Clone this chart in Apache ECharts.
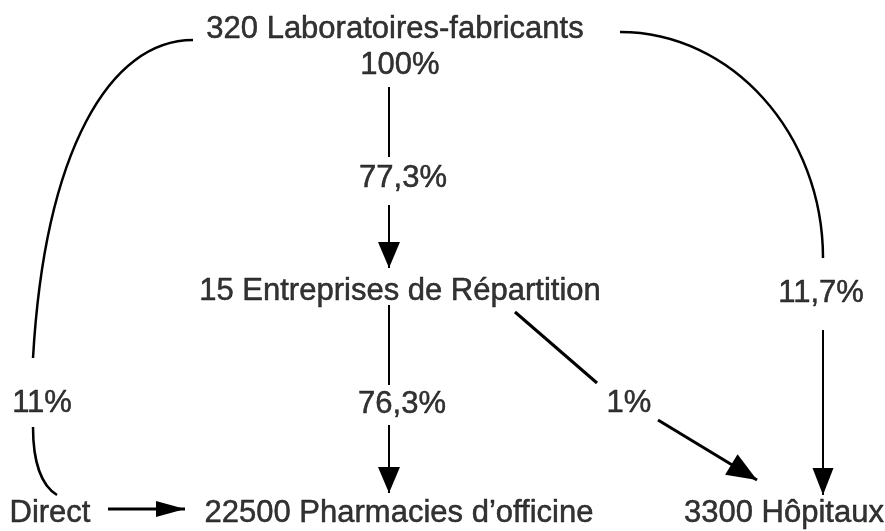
<!DOCTYPE html>
<html>
<head>
<meta charset="utf-8">
<script src="https://cdn.jsdelivr.net/npm/echarts@6/dist/echarts.min.js"></script>
<style>
  html, body { margin: 0; padding: 0; background: #ffffff; }
  #chart { width: 885px; height: 531px; }
</style>
</head>
<body>
<div id="chart"></div>
<script>
// ---------- content ----------
const nodeNames = [
  '320 Laboratoires-fabricants',
  '15 Entreprises de Répartition',
  '22500 Pharmacies d\u2019officine',
  '3300 Hôpitaux',
  'Direct'
];
const flowLabels = ['100%', '77,3%', '76,3%', '11,7%', '11%', '1%'];

// ---------- layout (diagram units = 885 x 531 canvas) ----------
const nodeX = [395, 400, 399, 784, 50];
const nodeY = [29, 291, 513, 513, 513];
const flowLabelX = [400, 403, 402, 821, 42, 629];
const flowLabelY = [65, 178, 404, 293, 403, 403];

// connector geometry: kind, points, arrow head [length, width], line width
const connectors = [
  { kind: 'line',  pts: [[389, 87], [389, 157]], head: null, lw: 2 },
  { kind: 'line',  pts: [[389, 205], [389, 268]], head: [26, 22], lw: 2 },
  { kind: 'line',  pts: [[389, 305], [389, 385]], head: null, lw: 2 },
  { kind: 'line',  pts: [[389, 425], [389, 493]], head: [26, 22], lw: 2 },
  { kind: 'curve', pts: [[620, 32], [732, 32], [823, 134], [823, 258]], head: null, lw: 2.5 },
  { kind: 'line',  pts: [[823, 330], [823, 495]], head: [27, 21], lw: 2 },
  { kind: 'line',  pts: [[515, 312], [597, 383]], head: null, lw: 3 },
  { kind: 'line',  pts: [[658, 420], [757, 480]], head: [30, 24], lw: 3 },
  { kind: 'curve', pts: [[193, 40], [110, 40], [45, 150], [33, 358]], head: null, lw: 2.5 },
  { kind: 'curve', pts: [[33, 427], [33, 463], [42, 486], [57, 495]], head: null, lw: 2.5 },
  { kind: 'line',  pts: [[108, 509], [185, 509]], head: [29, 16], lw: 3 }
];

const INK = '#000000';
const FONT = 'Liberation Sans, Arial, Helvetica, sans-serif';
const FS = 31;

const chart = echarts.init(document.getElementById('chart'), null, { renderer: 'canvas' });

function renderConnector(params, api) {
  const c = connectors[params.dataIndex];
  const p = c.pts.map(pt => api.coord(pt));
  const children = [];
  if (c.head) {
    const end = p[p.length - 1];
    const prev = p[p.length - 2];
    const dx = end[0] - prev[0], dy = end[1] - prev[1];
    const len = Math.sqrt(dx * dx + dy * dy);
    const ux = dx / len, uy = dy / len;
    const L = c.head[0], W = c.head[1] / 2;
    const bx = end[0] - ux * L, by = end[1] - uy * L;
    children.push({
      type: 'polygon',
      shape: { points: [end, [bx - uy * W, by + ux * W], [bx + uy * W, by - ux * W]] },
      style: { fill: INK }
    });
  }
  if (c.kind === 'line') {
    children.push({
      type: 'line',
      shape: { x1: p[0][0], y1: p[0][1], x2: p[1][0], y2: p[1][1] },
      style: { stroke: INK, lineWidth: c.lw, lineCap: 'butt' }
    });
  } else {
    children.push({
      type: 'bezierCurve',
      shape: {
        x1: p[0][0], y1: p[0][1],
        cpx1: p[1][0], cpy1: p[1][1],
        cpx2: p[2][0], cpy2: p[2][1],
        x2: p[3][0], y2: p[3][1]
      },
      style: { stroke: INK, lineWidth: c.lw, fill: null, lineCap: 'butt' }
    });
  }
  return { type: 'group', children: children };
}

const textStyle = {
  show: true,
  position: 'inside',
  color: INK,
  textBorderWidth: 0.5,
  textBorderColor: INK,
  textShadowBlur: 0,
  fontFamily: FONT,
  fontSize: FS,
  fontWeight: 'normal',
  formatter: p => p.name
};

const option = {
  backgroundColor: '#ffffff',
  animation: false,
  grid: { left: 0, right: 0, top: 0, bottom: 0 },
  xAxis: { type: 'value', min: 0, max: 885, show: false },
  yAxis: { type: 'value', min: 0, max: 531, inverse: true, show: false },
  series: [
    {
      type: 'custom',
      renderItem: renderConnector,
      clip: false,
      silent: true,
      data: connectors.map(() => [0, 0])
    },
    {
      type: 'scatter',
      symbolSize: 0,
      silent: true,
      label: textStyle,
      data: nodeNames.map((n, i) => ({ name: n, value: [nodeX[i], nodeY[i]] }))
    },
    {
      type: 'scatter',
      symbolSize: 0,
      silent: true,
      label: textStyle,
      data: flowLabels.map((n, i) => ({ name: n, value: [flowLabelX[i], flowLabelY[i]] }))
    }
  ]
};
chart.setOption(option);
</script>
</body>
</html>
